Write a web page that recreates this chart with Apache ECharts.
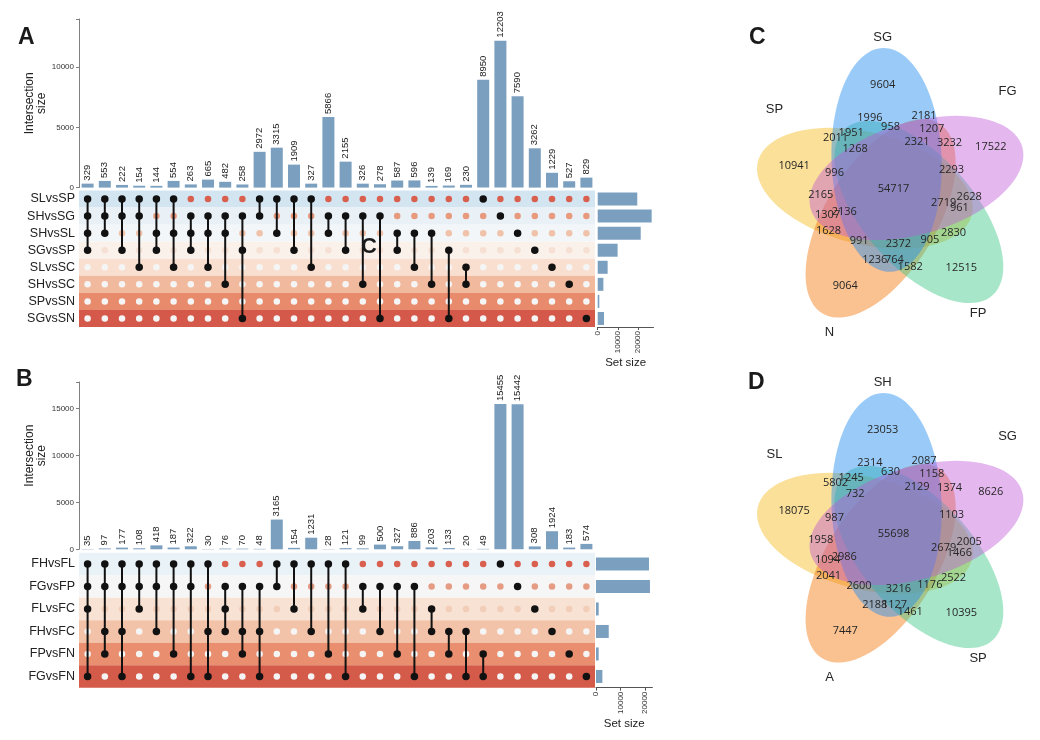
<!DOCTYPE html>
<html>
<head>
<meta charset="utf-8">
<script src="https://cdn.jsdelivr.net/npm/echarts@6/dist/echarts.min.js"></script>
<style>
  html, body { margin: 0; padding: 0; background: #fff; }
  #chart { width: 1040px; height: 740px; }
</style>
</head>
<body>
<div id="chart"></div>
<script>
// ---- panel A: upset of the S comparisons ----
const setsA = ['SLvsSP', 'SHvsSG', 'SHvsSL', 'SGvsSP', 'SLvsSC', 'SHvsSC', 'SPvsSN', 'SGvsSN'];
const setSizeA = [19500, 26600, 21200, 9800, 4900, 2800, 800, 3100];
const countsA = [329, 553, 222, 154, 144, 554, 263, 665, 482, 258, 2972, 3315, 1909, 327, 5866,
  2155, 326, 278, 587, 596, 139, 169, 230, 8950, 12203, 7590, 3262, 1229, 527, 829];
// set indexes (rows of setsA) in each intersection column
const membersA = [[0, 1, 2, 3], [0, 1, 2], [0, 1, 3], [0, 1, 4], [0, 2, 3], [0, 2, 4], [1, 2, 3],
  [1, 2, 4], [1, 2, 5], [1, 3, 7], [0, 1], [0, 2], [0, 3], [0, 4], [1, 2], [1, 3], [1, 5], [1, 7],
  [2, 3], [2, 4], [2, 5], [3, 7], [4, 5], [0], [1], [2], [3], [4], [5], [7]];

// ---- panel B: upset of the F comparisons ----
const setsB = ['FHvsFL', 'FGvsFP', 'FLvsFC', 'FHvsFC', 'FPvsFN', 'FGvsFN'];
const setSizeB = [21600, 22000, 1100, 5200, 1100, 2600];
const countsB = [35, 97, 177, 108, 418, 187, 322, 30, 76, 70, 48, 3165, 154, 1231, 28,
  121, 99, 500, 327, 886, 203, 133, 20, 49, 15455, 15442, 308, 1924, 183, 574];
const membersB = [[0, 1, 2, 5], [0, 1, 3, 4], [0, 1, 3, 5], [0, 1, 2], [0, 1, 3], [0, 1, 4], [0, 1, 5],
  [0, 3, 5], [1, 2, 3], [1, 3, 4], [1, 3, 5], [0, 1], [0, 2], [0, 3], [0, 4], [0, 5], [1, 2], [1, 3],
  [1, 4], [1, 5], [2, 3], [3, 4], [3, 5], [4, 5], [0], [1], [2], [3], [4], [5]];

// ---- panels C and D: five-set venn counts (same region order) ----
const vennSetsC = ['SG', 'FG', 'FP', 'N', 'SP'];
const vennCountsC = [9604, 2181, 1996, 1207, 958, 1951, 2011, 2321, 3232, 17522, 1268, 10941, 996,
  2293, 54717, 2165, 2628, 2719, 961, 1307, 2136, 1628, 991, 2372, 905, 2830, 1236, 764, 1582, 12515, 9064];
const vennSetsD = ['SH', 'SG', 'SP', 'A', 'SL'];
const vennCountsD = [23053, 2087, 2314, 1158, 630, 1245, 5802, 2129, 1374, 8626, 732, 18075, 987,
  1103, 55698, 1958, 2005, 2679, 1466, 1094, 2986, 2041, 2600, 3216, 1176, 2522, 2188, 1127, 1461, 10395, 7447];

// venn layout (local units, y up, centre of the flower = 0,0)
const regionPos = [[-10, 105], [32, 74], [-23, 72], [40, 61], [-2, 63], [-42, 57], [-58, 52], [25, 48],
  [58, 47], [100, 43], [-38, 41], [-100, 24], [-59, 17], [60, 20], [1, 1], [-73, -5], [78, -7],
  [52, -13], [68, -18], [-66, -25], [-49, -22], [-65, -41], [-34, -51], [6, -54], [38, -50],
  [62, -43], [-18, -70], [2, -70], [18, -77], [70, -78], [-48, -96]];
const setNamePos = [[-10, 153], [117, 99], [87, -123], [-64, -142], [-120, 81]];
// outer tip of each petal, then the shared ellipse shape
const petalTips = [[-10, 142], [132, 43], [102, -105], [-72, -123], [-137, 28]];
const petal = { a: 112, b: 56, tilt: -2 };
const petalColors = ['rgba(30,140,240,0.45)', 'rgba(190,85,215,0.42)', 'rgba(60,200,135,0.45)',
  'rgba(245,125,25,0.48)', 'rgba(245,190,40,0.48)'];
const petalOrder = [3, 4, 2, 1, 0]; // paint order (higher on top)

const FONT = '"Liberation Sans", Arial, sans-serif';
const BAR = '#7b9fbf';
const bandA = ['#d3e5f1', '#e9f1f7', '#f3f6f8', '#faf1eb', '#f8dfcf', '#f1ba9e', '#e88b6c', '#d4594a'];
const dotA = ['#d9604f', '#e89a7f', '#f0c2aa', '#f6e0d3', '#f5f5f5', '#f5f5f5', '#f5f5f5', '#f5f5f5'];
const bandB = ['#e9f2f7', '#f6f6f6', '#f8e2d3', '#f3c3a9', '#e98e6f', '#d45a4a'];
const dotB = ['#d9604f', '#e59c83', '#f2cdb8', '#f5f5f5', '#f5f5f5', '#f5f5f5'];

const chart = echarts.init(document.getElementById('chart'));

function upset(g, sets, counts, members, sizes, yMax, sizeMax, band, dot, nameGap, namePad) {
  const cols = counts.map((_, i) => 'c' + i);
  const xAxis = [
    { gridIndex: g, type: 'category', data: cols, show: false },
    { gridIndex: g + 1, type: 'category', data: cols, show: false },
    {
      gridIndex: g + 2, type: 'value', min: 0, max: sizeMax, interval: 10000,
      axisLine: { show: true, lineStyle: { color: '#555' } },
      axisTick: { show: true, length: 3, lineStyle: { color: '#555' }, customValues: [0, 10000, 20000] },
      axisLabel: { rotate: 90, fontSize: 8, color: '#333', margin: 4, fontFamily: FONT,
        customValues: [0, 10000, 20000], formatter: v => (v % 10000 === 0 ? String(v) : '') },
      splitLine: { show: false },
      name: 'Set size', nameLocation: 'middle', nameGap: nameGap,
      nameTextStyle: { fontSize: 11.5, color: '#222', fontFamily: FONT }
    }
  ];
  const yAxis = [
    {
      gridIndex: g, type: 'value', min: 0, max: yMax, interval: 5000,
      axisLine: { show: true, lineStyle: { color: '#7f7f7f' } },
      axisTick: { show: true, length: 3, lineStyle: { color: '#7f7f7f' } },
      axisLabel: { fontSize: 8, color: '#333', margin: 5, fontFamily: FONT,
        formatter: v => (v % 5000 === 0 ? String(v) : '') },
      splitLine: { show: false },
      name: 'Intersection\nsize', nameLocation: 'middle', nameRotate: 90, nameGap: 22,
      nameTextStyle: { fontSize: 12, lineHeight: 12, color: '#222', fontFamily: FONT, padding: namePad }
    },
    {
      gridIndex: g + 1, type: 'category', data: sets, inverse: true,
      axisLine: { show: false }, axisTick: { show: false },
      axisLabel: { fontSize: 12.5, color: '#222', margin: 4, fontFamily: FONT }
    },
    { gridIndex: g + 2, type: 'category', data: sets, inverse: true, show: false }
  ];

  const inSet = [], outSet = [], links = [];
  members.forEach((m, c) => {
    sets.forEach((_, r) => (m.includes(r) ? inSet : outSet).push([c, r]));
    if (m.length > 1) links.push([c, Math.min(...m), Math.max(...m)]);
  });

  const dotItem = (size, colorOf) => (params, api) => {
    const p = api.coord([api.value(0), api.value(1)]);
    return { type: 'circle', shape: { cx: p[0], cy: p[1], r: size / 2 },
      style: { fill: colorOf(api.value(1)) } };
  };

  const series = [
    {
      type: 'bar', xAxisIndex: g, yAxisIndex: g, data: counts, barWidth: 12,
      itemStyle: { color: BAR }, silent: true,
      label: { show: true, position: 'top', rotate: 90, align: 'left', verticalAlign: 'middle',
        distance: 3, fontSize: 9.5, color: '#222', fontFamily: FONT }
    },
    {
      type: 'custom', xAxisIndex: g + 1, yAxisIndex: g + 1, z: 1, silent: true,
      data: sets.map((_, r) => [0, r]), encode: { x: 0, y: 1 },
      renderItem: (params, api) => {
        const p = api.coord([0, api.value(1)]);
        const h = api.size([0, 1])[1];
        const cs = params.coordSys;
        return { type: 'rect', shape: { x: cs.x, y: p[1] - h / 2, width: cs.width, height: h },
          style: { fill: band[api.value(1)] } };
      }
    },
    {
      type: 'custom', xAxisIndex: g + 1, yAxisIndex: g + 1, z: 2, silent: true,
      data: outSet, encode: { x: 0, y: 1 }, renderItem: dotItem(6.5, r => dot[r])
    },
    {
      type: 'custom', xAxisIndex: g + 1, yAxisIndex: g + 1, z: 3, silent: true,
      data: links, encode: { x: 0, y: [1, 2] },
      renderItem: (params, api) => {
        const a = api.coord([api.value(0), api.value(1)]);
        const b = api.coord([api.value(0), api.value(2)]);
        return { type: 'line', shape: { x1: a[0], y1: a[1], x2: b[0], y2: b[1] },
          style: { stroke: '#111', lineWidth: 2 } };
      }
    },
    {
      type: 'custom', xAxisIndex: g + 1, yAxisIndex: g + 1, z: 4, silent: true,
      data: inSet, encode: { x: 0, y: 1 }, renderItem: dotItem(7.5, () => '#111')
    },
    {
      type: 'bar', xAxisIndex: g + 2, yAxisIndex: g + 2, data: sizes, barWidth: 13,
      itemStyle: { color: BAR }, silent: true
    }
  ];
  return { xAxis, yAxis, series };
}

function petalPoints(k) {
  const tip = petalTips[k];
  const aa = Math.atan2(tip[1], tip[0]) + petal.tilt * Math.PI / 180;
  const u = [Math.cos(aa), Math.sin(aa)], v = [-u[1], u[0]];
  const c = [tip[0] - petal.a * u[0], tip[1] - petal.a * u[1]];
  const pts = [];
  for (let i = 0; i < 90; i++) {
    const t = (2 * Math.PI * i) / 90;
    const ca = petal.a * Math.cos(t), sb = petal.b * Math.sin(t);
    pts.push([c[0] + ca * u[0] + sb * v[0], c[1] + ca * u[1] + sb * v[1]]);
  }
  return pts;
}

function venn(g, names, counts) {
  const xAxis = [{ gridIndex: g, type: 'value', min: -150, max: 150, show: false }];
  const yAxis = [{ gridIndex: g, type: 'value', min: -150, max: 150, show: false }];
  const textItem = (labels, font) => (params, api) => {
    const p = api.coord([api.value(0), api.value(1)]);
    return { type: 'text', x: p[0], y: p[1],
      style: { text: String(labels[params.dataIndex]), font: font, fill: '#262626',
        align: 'center', verticalAlign: 'middle' } };
  };
  const series = [
    {
      type: 'custom', xAxisIndex: g, yAxisIndex: g, silent: true, z: 1,
      data: names.map((_, k) => [k, 0]), encode: { x: 0, y: 1 },
      renderItem: (params, api) => ({
        type: 'polygon', z2: petalOrder[params.dataIndex],
        shape: { points: petalPoints(params.dataIndex).map(p => api.coord(p)) },
        style: { fill: petalColors[params.dataIndex] }
      })
    },
    {
      type: 'custom', xAxisIndex: g, yAxisIndex: g, silent: true, z: 3,
      data: regionPos, encode: { x: 0, y: 1 },
      renderItem: textItem(counts, '11px "Open Sans", "DejaVu Sans", sans-serif')
    },
    {
      type: 'custom', xAxisIndex: g, yAxisIndex: g, silent: true, z: 3,
      data: setNamePos, encode: { x: 0, y: 1 },
      renderItem: textItem(names, '13px ' + FONT)
    }
  ];
  return { xAxis, yAxis, series };
}

const pA = upset(0, setsA, countsA, membersA, setSizeA, 14000, 27500, bandA, dotA, 28, [0, 0, 0, 0]);
const pB = upset(3, setsB, countsB, membersB, setSizeB, 17800, 23000, bandB, dotB, 30, [0, 0, 0, 20]);
const vC = venn(6, vennSetsC, vennCountsC);
const vD = venn(7, vennSetsD, vennCountsD);

const letter = (t, x, y, size) => ({
  type: 'text', left: x, top: y, z: 100,
  style: { text: t, font: 'bold ' + size + 'px ' + FONT, fill: '#1a1a1a' }
});

chart.setOption({
  animation: false,
  textStyle: { fontFamily: FONT },
  grid: [
    { left: 79, top: 19, width: 516, height: 168.6 },
    { left: 79, top: 190.5, width: 516, height: 136.5 },
    { left: 597.7, top: 190.5, width: 55.8, height: 136.5 },
    { left: 79, top: 382, width: 516, height: 167.3 },
    { left: 79, top: 552.7, width: 516, height: 135 },
    { left: 596, top: 552.7, width: 56.4, height: 135 },
    { left: 745, top: 40, width: 300, height: 300 },
    { left: 745, top: 385, width: 300, height: 300 }
  ],
  xAxis: [...pA.xAxis, ...pB.xAxis, ...vC.xAxis, ...vD.xAxis],
  yAxis: [...pA.yAxis, ...pB.yAxis, ...vC.yAxis, ...vD.yAxis],
  series: [...pA.series, ...pB.series, ...vC.series, ...vD.series],
  graphic: [
    letter('A', 18, 26, 23),
    letter('B', 16, 368, 23),
    letter('C', 749, 26, 23),
    letter('D', 748, 371, 23),
    letter('C', 361, 236, 22)
  ]
});
</script>
</body>
</html>
